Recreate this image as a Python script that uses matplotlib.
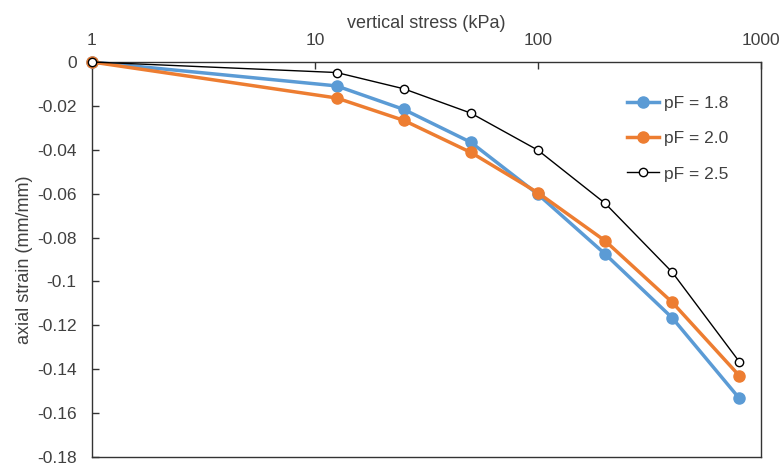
import matplotlib
matplotlib.use("Agg")
import matplotlib.pyplot as plt
from matplotlib.ticker import FixedLocator, NullLocator

plt.rcParams['font.family'] = ['Liberation Sans', 'DejaVu Sans']

# vertical stress steps (kPa)
stress = [1, 12.5, 25, 50, 100, 200, 400, 800]

# axial strain (mm/mm) for each suction level
strain_pf18 = [0.0, -0.0109, -0.0216, -0.0366, -0.0603, -0.0875, -0.1166, -0.1533]
strain_pf20 = [0.0, -0.0164, -0.0266, -0.0412, -0.0596, -0.0815, -0.1095, -0.1430]
strain_pf25 = [0.0, -0.0048, -0.0122, -0.0233, -0.0402, -0.0644, -0.0958, -0.1366]

x_ticks = [1, 10, 100, 1000]
y_ticks = [0, -0.02, -0.04, -0.06, -0.08, -0.1, -0.12, -0.14, -0.16, -0.18]
y_labels = ["0", "-0.02", "-0.04", "-0.06", "-0.08", "-0.1", "-0.12", "-0.14", "-0.16", "-0.18"]

fig = plt.figure(figsize=(7.82, 4.65), dpi=100)
ax = fig.add_axes([0.1176, 0.0172, 0.8555, 0.8495])

blue = "#5B9BD5"
orange = "#ED7D31"
text_col = "#404040"

ax.plot(stress, strain_pf18, color=blue, lw=2.5, marker="o", ms=8,
        label="pF = 1.8", zorder=3, clip_on=False)
ax.plot(stress, strain_pf20, color=orange, lw=2.5, marker="o", ms=8,
        label="pF = 2.0", zorder=4, clip_on=False)
ax.plot(stress, strain_pf25, color="black", lw=1.0, marker="o", ms=6,
        mfc="white", mec="black", mew=1.0, label="pF = 2.5", zorder=5,
        clip_on=False)

ax.set_xscale("log")
ax.set_xlim(1, 1000)
ax.set_ylim(-0.18, 0)

ax.xaxis.set_major_locator(FixedLocator(x_ticks))
ax.xaxis.set_minor_locator(NullLocator())
ax.set_xticks(x_ticks)
ax.set_xticklabels([str(v) for v in x_ticks])
ax.set_yticks(y_ticks)
ax.set_yticklabels(y_labels)

ax.xaxis.set_ticks_position("top")
ax.xaxis.set_label_position("top")
ax.tick_params(axis="x", direction="in", length=5, width=1, colors="#333333",
               labelsize=12.5, pad=10, labelcolor=text_col, top=True, bottom=False)
ax.tick_params(axis="y", direction="in", length=5, width=1, colors="#333333",
               labelsize=12.5, pad=11, labelcolor=text_col)

for side in ["left", "right", "top", "bottom"]:
    ax.spines[side].set_color("#333333")
    ax.spines[side].set_linewidth(1.0)

ax.set_xlabel("vertical stress (kPa)", fontsize=13, labelpad=4, color=text_col)
ax.set_ylabel("axial strain (mm/mm)", fontsize=13, color=text_col, labelpad=3)

ax.legend(loc="upper left", bbox_to_anchor=(0.777, 0.953), frameon=False,
          fontsize=12.5, handlelength=1.8, handletextpad=0.3, labelspacing=1.15,
          labelcolor=text_col)

fig.savefig("out.png", dpi=100)
